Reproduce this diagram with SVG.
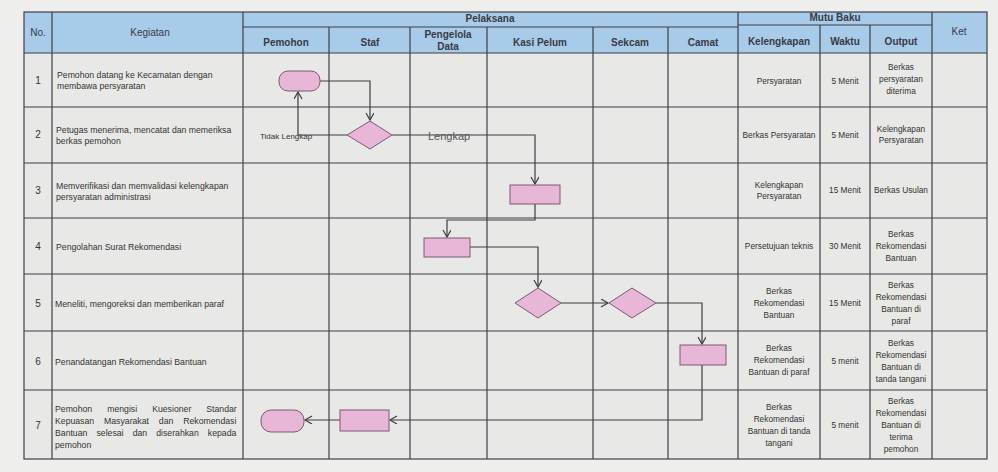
<svg xmlns="http://www.w3.org/2000/svg" width="998" height="472" viewBox="0 0 998 472">
<style>
.g{stroke:#3f3f48;stroke-width:1.2;fill:none}
.h{font-family:"Liberation Sans",Arial,sans-serif;font-size:10px;font-weight:bold;fill:#3a3a44;text-anchor:middle}
.hn{font-family:"Liberation Sans",Arial,sans-serif;font-size:10px;fill:#3a3a44;text-anchor:middle}
.t{font-family:"Liberation Sans",Arial,sans-serif;font-size:8.7px;fill:#333}
.c{font-family:"Liberation Sans",Arial,sans-serif;font-size:8.3px;fill:#333;text-anchor:middle}
.n{font-family:"Liberation Sans",Arial,sans-serif;font-size:10px;fill:#333;text-anchor:middle}
.s{fill:#e8b6d7;stroke:#7a5a72;stroke-width:1}
.k{stroke:#3c3c44;stroke-width:1.2;fill:none}
</style>
<defs>
<marker id="ar" markerWidth="10" markerHeight="10" refX="8" refY="4" orient="auto" markerUnits="userSpaceOnUse">
<path d="M1,0 L8,4 L1,8" fill="none" stroke="#3c3c44" stroke-width="1.2"/>
</marker>
</defs>
<rect x="0" y="0" width="998" height="472" fill="#eeeeec"/>
<g id="table">
<rect x="24" y="53" width="963" height="406" fill="#e8e9e6"/>
<rect x="24" y="12" width="963" height="41" fill="#a8cbea"/>
<rect x="24" y="12" width="963" height="447" class="g"/>
<path class="g" d="M243,27H738 M738,25H932 M24,53H987 M24,107H987 M24,163H987 M24,218H987 M24,274H987 M24,331H987 M24,390H987"/>
<path class="g" d="M52,12V459 M243,12V459 M329,27V459 M410,27V459 M487,27V459 M593,27V459 M668,27V459 M738,12V459 M820,25V459 M870,25V459 M932,12V459"/>
</g>
<g id="header">
<text class="hn" x="38" y="36">No.</text>
<text class="hn" x="150" y="36">Kegiatan</text>
<text class="h" x="490" y="22">Pelaksana</text>
<text class="h" x="286" y="46">Pemohon</text>
<text class="h" x="370" y="46">Staf</text>
<text class="h" x="448" y="38">Pengelola</text>
<text class="h" x="448" y="50">Data</text>
<text class="h" x="540" y="46">Kasi Pelum</text>
<text class="h" x="630" y="46">Sekcam</text>
<text class="h" x="703" y="46">Camat</text>
<text class="h" x="835" y="21">Mutu Baku</text>
<text class="h" x="779" y="45">Kelengkapan</text>
<text class="h" x="845" y="45">Waktu</text>
<text class="h" x="901" y="45">Output</text>
<text class="hn" x="959" y="35">Ket</text>
</g>
<g id="kegiatan">
<text class="n" x="38" y="84">1</text>
<text class="t" x="57" y="78">Pemohon datang ke Kecamatan dengan</text>
<text class="t" x="57" y="89">membawa persyaratan</text>
<text class="n" x="38" y="138">2</text>
<text class="t" x="56" y="133">Petugas menerima, mencatat dan memeriksa</text>
<text class="t" x="56" y="144">berkas pemohon</text>
<text class="n" x="38" y="194">3</text>
<text class="t" x="56" y="189">Memverifikasi dan memvalidasi kelengkapan</text>
<text class="t" x="56" y="200">persyaratan administrasi</text>
<text class="n" x="38" y="250">4</text>
<text class="t" x="56" y="250">Pengolahan Surat Rekomendasi</text>
<text class="n" x="38" y="307">5</text>
<text class="t" x="55" y="307">Meneliti, mengoreksi dan memberikan paraf</text>
<text class="n" x="38" y="365">6</text>
<text class="t" x="55" y="365">Penandatangan Rekomendasi Bantuan</text>
<text class="n" x="38" y="429">7</text>
<text class="t" x="55" y="412" word-spacing="12.6">Pemohon mengisi Kuesioner Standar</text>
<text class="t" x="55" y="424" word-spacing="7.5">Kepuasan Masyarakat dan Rekomendasi</text>
<text class="t" x="55" y="436" word-spacing="6.7">Bantuan selesai dan diserahkan kepada</text>
<text class="t" x="55" y="448">pemohon</text>
</g>
<g id="mutu">
<text class="c" x="779" y="84">Persyaratan</text>
<text class="c" x="845" y="84">5 Menit</text>
<text class="c" x="901" y="70">Berkas</text>
<text class="c" x="901" y="82">persyaratan</text>
<text class="c" x="901" y="94">diterima</text>
<text class="c" x="779" y="138">Berkas Persyaratan</text>
<text class="c" x="845" y="138">5 Menit</text>
<text class="c" x="901" y="132">Kelengkapan</text>
<text class="c" x="901" y="143">Persyaratan</text>
<text class="c" x="779" y="188">Kelengkapan</text>
<text class="c" x="779" y="199">Persyaratan</text>
<text class="c" x="845" y="193">15 Menit</text>
<text class="c" x="901" y="193">Berkas Usulan</text>
<text class="c" x="779" y="249">Persetujuan teknis</text>
<text class="c" x="845" y="249">30 Menit</text>
<text class="c" x="901" y="237">Berkas</text>
<text class="c" x="901" y="249">Rekomendasi</text>
<text class="c" x="901" y="261">Bantuan</text>
<text class="c" x="779" y="294">Berkas</text>
<text class="c" x="779" y="306">Rekomendasi</text>
<text class="c" x="779" y="318">Bantuan</text>
<text class="c" x="845" y="306">15 Menit</text>
<text class="c" x="901" y="288">Berkas</text>
<text class="c" x="901" y="300">Rekomendasi</text>
<text class="c" x="901" y="312">Bantuan di</text>
<text class="c" x="901" y="324">paraf</text>
<text class="c" x="779" y="351">Berkas</text>
<text class="c" x="779" y="363">Rekomendasi</text>
<text class="c" x="779" y="375">Bantuan di paraf</text>
<text class="c" x="845" y="364">5 menit</text>
<text class="c" x="901" y="346">Berkas</text>
<text class="c" x="901" y="358">Rekomendasi</text>
<text class="c" x="901" y="370">Bantuan di</text>
<text class="c" x="901" y="382">tanda tangani</text>
<text class="c" x="779" y="410">Berkas</text>
<text class="c" x="779" y="422">Rekomendasi</text>
<text class="c" x="779" y="434">Bantuan di tanda</text>
<text class="c" x="779" y="446">tangani</text>
<text class="c" x="845" y="428">5 menit</text>
<text class="c" x="901" y="404">Berkas</text>
<text class="c" x="901" y="416">Rekomendasi</text>
<text class="c" x="901" y="428">Bantuan di</text>
<text class="c" x="901" y="440">terima</text>
<text class="c" x="901" y="452">pemohon</text>
</g>
<g id="connectors">
<path class="k" d="M320,81H370V120" marker-end="url(#ar)"/>
<path class="k" d="M347,135H298V92" marker-end="url(#ar)"/>
<path class="k" d="M392,135H535V184" marker-end="url(#ar)"/>
<path class="k" d="M535,204V220H447V237" marker-end="url(#ar)"/>
<path class="k" d="M470,247H538V287" marker-end="url(#ar)"/>
<path class="k" d="M561,303H608" marker-end="url(#ar)"/>
<path class="k" d="M656,303H702V344" marker-end="url(#ar)"/>
<path class="k" d="M702,365V420H390" marker-end="url(#ar)"/>
<path class="k" d="M340,420H305" marker-end="url(#ar)"/>
<text x="260" y="139" style="font-family:'Liberation Sans',Arial,sans-serif;font-size:8px;fill:#333">Tidak Lengkap</text>
<text x="428" y="140" style="font-family:'Liberation Sans',Arial,sans-serif;font-size:11px;fill:#555">Lengkap</text>
</g>
<g id="n1-start"><rect class="s" x="279" y="71" width="41" height="20" rx="9"/></g>
<g id="n2-cek"><path class="s" d="M370,121L392,135L370,149L347,135Z"/></g>
<g id="n3-verif"><rect class="s" x="510" y="185" width="50" height="19"/></g>
<g id="n4-olah"><rect class="s" x="424" y="238" width="46" height="19"/></g>
<g id="n5-kasi"><path class="s" d="M538,288L561,303L538,318L515,303Z"/></g>
<g id="n5-sekcam"><path class="s" d="M632,288L656,303L632,318L609,303Z"/></g>
<g id="n6-camat"><rect class="s" x="680" y="345" width="46" height="20"/></g>
<g id="n7-staf"><rect class="s" x="340" y="410" width="49" height="21"/></g>
<g id="n7-end"><rect class="s" x="261" y="410" width="43" height="22" rx="10"/></g>
</svg>
